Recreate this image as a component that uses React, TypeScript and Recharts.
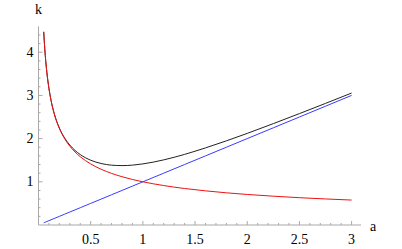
import React from "react";
import { LineChart, Line, XAxis, YAxis } from "recharts";

const aValues = [0.05, 0.06, 0.07, 0.08, 0.1, 0.12, 0.15, 0.2, 0.25, 0.3, 0.35, 0.4, 0.5, 0.6, 0.7, 0.8, 0.9, 1.0, 1.2, 1.4, 1.6, 1.8, 2.0, 2.25, 2.5, 2.75, 3.0];
const kBlack = [4.472, 4.083, 3.780, 3.536, 3.164, 2.889, 2.586, 2.245, 2.016, 1.850, 1.726, 1.631, 1.5, 1.424, 1.385, 1.375, 1.386, 1.414, 1.508, 1.635, 1.785, 1.948, 2.121, 2.347, 2.579, 2.815, 3.055];
const kRed = [4.472, 4.082, 3.780, 3.536, 3.162, 2.887, 2.582, 2.236, 2.0, 1.826, 1.690, 1.581, 1.414, 1.291, 1.195, 1.118, 1.054, 1.0, 0.913, 0.845, 0.791, 0.745, 0.707, 0.667, 0.632, 0.603, 0.577];
const kBlue = [0.05, 0.06, 0.07, 0.08, 0.1, 0.12, 0.15, 0.2, 0.25, 0.3, 0.35, 0.4, 0.5, 0.6, 0.7, 0.8, 0.9, 1.0, 1.2, 1.4, 1.6, 1.8, 2.0, 2.25, 2.5, 2.75, 3.0];

const xMajorTicks = [0.5, 1, 1.5, 2, 2.5, 3];
const xMajorLabels = ["0.5", "1", "1.5", "2", "2.5", "3"];
const xAllTicks = [0.1, 0.2, 0.3, 0.4, 0.5, 0.6, 0.7, 0.8, 0.9, 1.0, 1.1, 1.2, 1.3, 1.4, 1.5, 1.6, 1.7, 1.8, 1.9, 2.0, 2.1, 2.2, 2.3, 2.4, 2.5, 2.6, 2.7, 2.8, 2.9, 3.0];
const yMajorTicks = [1, 2, 3, 4];
const yMajorLabels = ["1", "2", "3", "4"];
const yAllTicks = [0.2, 0.4, 0.6, 0.8, 1.0, 1.2, 1.4, 1.6, 1.8, 2.0, 2.2, 2.4, 2.6, 2.8, 3.0, 3.2, 3.4, 3.6, 3.8, 4.0, 4.2, 4.4];

const data = aValues.map((a, i) => ({ a, black: kBlack[i], red: kRed[i], blue: kBlue[i] }));

const FONT = '"Liberation Serif", "Times New Roman", Times, "DejaVu Serif", serif';
const AXIS_COLOR = "#a8a8a8";
const textStyle: React.CSSProperties = { fontFamily: FONT, fontSize: "14px" };

const majorIndex = (list: number[], v: number) => list.findIndex((m) => Math.abs(m - v) < 1e-6);

const XTick = (props: any) => {
  const { x, y, payload } = props;
  const idx = majorIndex(xMajorTicks, payload.value);
  const len = idx >= 0 ? 4 : 2;
  return (
    <g>
      <line x1={x} x2={x} y1={y} y2={y - len} stroke={AXIS_COLOR} strokeWidth={1} />
      {idx >= 0 && (
        <text x={x} y={y + 19} textAnchor="middle" style={textStyle} fill="#000">
          {xMajorLabels[idx]}
        </text>
      )}
    </g>
  );
};

const YTick = (props: any) => {
  const { x, y, payload } = props;
  const idx = majorIndex(yMajorTicks, payload.value);
  const len = idx >= 0 ? 4 : 2;
  return (
    <g>
      <line x1={x} x2={x + len} y1={y} y2={y} stroke={AXIS_COLOR} strokeWidth={1} />
      {idx >= 0 && (
        <text x={x - 5} y={y + 4.5} textAnchor="end" style={textStyle} fill="#000">
          {yMajorLabels[idx]}
        </text>
      )}
    </g>
  );
};

const KLabel = (props: any) => {
  const vb = props.viewBox || {};
  return (
    <text x={vb.x + vb.width} y={vb.y - 12} textAnchor="middle" style={textStyle} fill="#000">
      k
    </text>
  );
};

const ALabel = (props: any) => {
  const vb = props.viewBox || {};
  return (
    <text x={vb.x + vb.width + 12} y={vb.y + 5.5} textAnchor="middle" style={textStyle} fill="#000">
      a
    </text>
  );
};

export default function App() {
  return (
    <div style={{ position: "absolute", left: 0, top: 0, background: "#fff", fontFamily: FONT }}>
      <LineChart width={402} height={249} data={data} margin={{ top: 26.3, right: 41, left: 0, bottom: 0 }} style={{ fontFamily: FONT }}>
        <XAxis
          dataKey="a"
          type="number"
          domain={[0, 3.09]}
          ticks={xAllTicks}
          interval={0}
          tick={<XTick />}
          tickLine={false}
          tickSize={0}
          tickMargin={0}
          height={24}
          axisLine={{ stroke: AXIS_COLOR, strokeWidth: 1 }}
          allowDataOverflow
          label={<ALabel />}
        />
        <YAxis
          type="number"
          domain={[0, 4.6]}
          ticks={yAllTicks}
          interval={0}
          tick={<YTick />}
          tickLine={false}
          tickSize={0}
          tickMargin={0}
          width={38.5}
          axisLine={{ stroke: AXIS_COLOR, strokeWidth: 1 }}
          allowDataOverflow
          label={<KLabel />}
        />
        <Line dataKey="black" type="monotone" stroke="#222" strokeWidth={1} dot={false} isAnimationActive={false} />
        <Line dataKey="blue" type="monotone" stroke="#3a3aff" strokeWidth={1} dot={false} isAnimationActive={false} />
        <Line dataKey="red" type="monotone" stroke="#ee1111" strokeWidth={1} dot={false} isAnimationActive={false} />
      </LineChart>
    </div>
  );
}
